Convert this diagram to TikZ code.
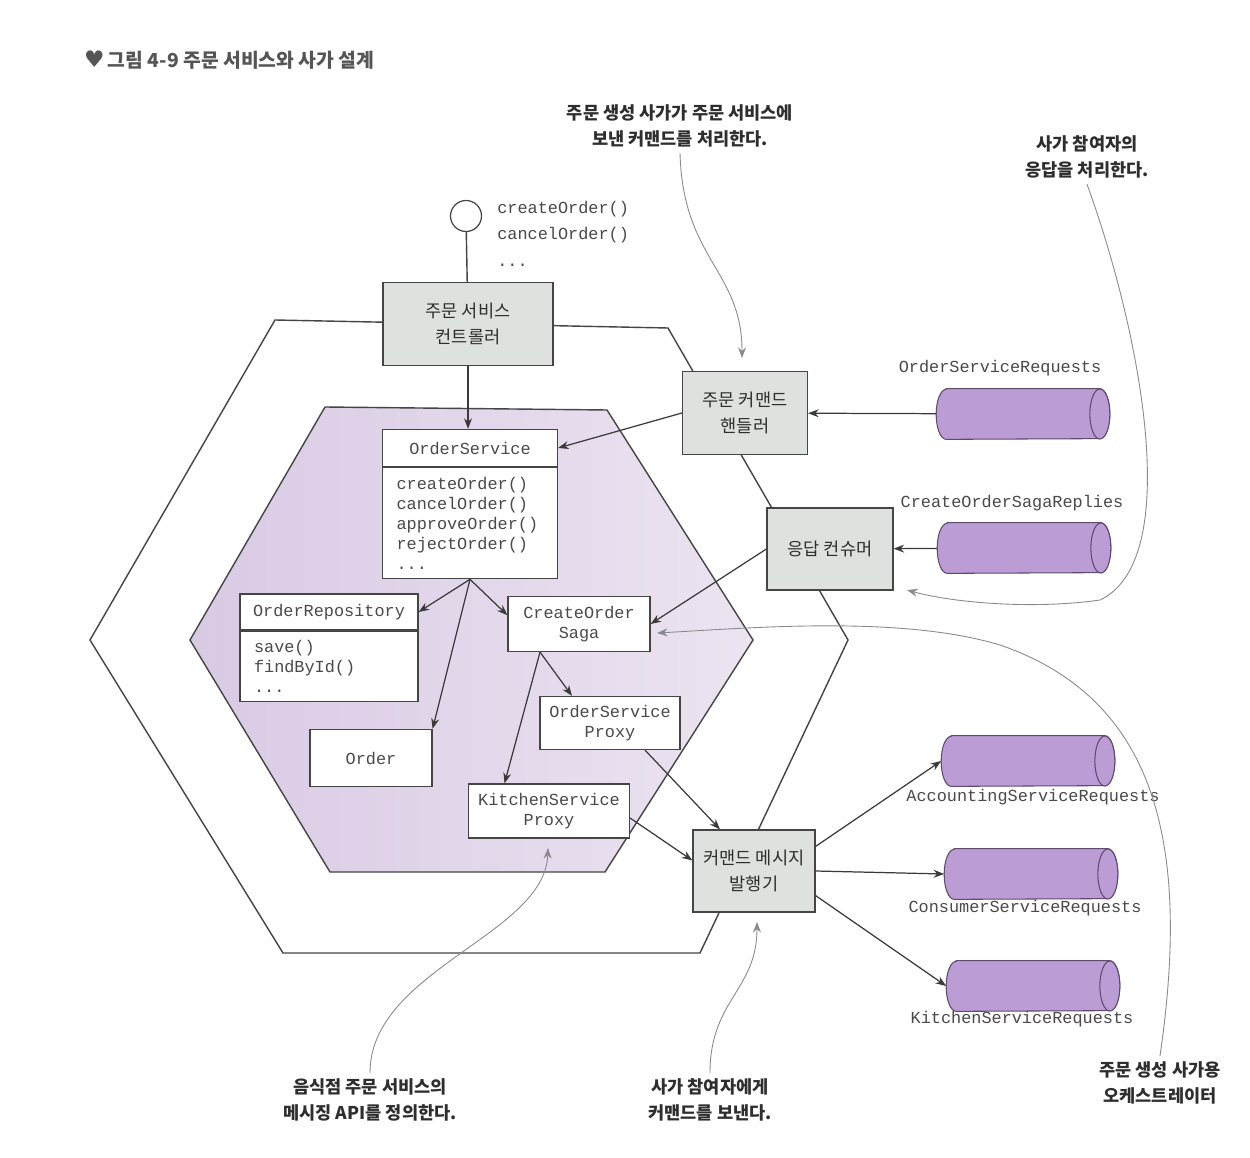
\documentclass[tikz,border=0pt]{standalone}
\usepackage{fontspec}
\setmainfont{Noto Sans CJK KR}
\newfontfamily\monofont{Liberation Mono}
\newfontfamily\symfont{DejaVu Sans}
\usepackage{tikz}
\usetikzlibrary{calc}
\usetikzlibrary{positioning}
\usetikzlibrary{shapes.geometric}
\usetikzlibrary{arrows.meta}
\definecolor{boxgray}{HTML}{DDE2DF}
\definecolor{hexline}{HTML}{454545}
\definecolor{linedark}{HTML}{3A3A3A}
\definecolor{notegray}{HTML}{8A8A8A}
\definecolor{textdark}{HTML}{2E2E2E}
\definecolor{textmono}{HTML}{4A4A4A}
\definecolor{titlegray}{HTML}{555555}
\definecolor{queuefill}{HTML}{BB9CD4}
\definecolor{queueline}{HTML}{5E4B6E}
\definecolor{innerleft}{HTML}{D9CAE4}
\definecolor{innerright}{HTML}{ECE4F1}
\tikzset{
box/.style={draw=hexline,line width=0.7pt,align=center,inner sep=0cm,anchor=center},
ctrlbox/.style={box,fill=boxgray,text=textdark,font=\fontsize{10}{14.5}\selectfont},
codebox/.style={box,fill=white,text=textmono,font=\monofont\fontsize{9.6}{11.3}\selectfont},
membox/.style={codebox,align=left,anchor=north,inner xsep=0.28cm},
queue/.style={rectangle,inner sep=0cm,minimum width=3.46cm,minimum height=1.0cm,anchor=center},
queueside/.style={draw=queueline,fill=queuefill,line width=0.6pt},
qlabel/.style={inner sep=0cm,text=textmono,font=\monofont\fontsize{9.6}{11}\selectfont},
flow/.style={draw=linedark,line width=0.7pt,-{Stealth[length=6pt,width=4.5pt]}},
note/.style={align=center,text=textdark,font=\fontsize{10}{14.5}\selectfont\bfseries},
pointer/.style={draw=notegray,line width=0.5pt,-{Stealth[length=6pt,width=4.5pt]}},
hexside/.style={draw=hexline,line width=0.8pt}
}

\begin{document}
\begin{tikzpicture}[x=0.02cm,y=-0.02cm]
    \newcommand{\capr}{0.2cm}
    \fill[white] (0,0) rectangle (1250,1158);
    \useasboundingbox (0,0) rectangle (1250,1158);
    %
    \node[anchor=west,text=titlegray,font=\fontsize{11}{13}\selectfont\bfseries] (title)
      at (78,60) {{\symfont\fontsize{13}{13}\selectfont ♥}\,그림 4-9 주문 서비스와 사가 설계};
    %
    % hexagons
    \draw[hexside] (275,320) -- (668,328) -- (848,640) -- (700,953) -- (283,953) -- (90,640) -- cycle;
    \draw[hexside,left color=innerleft,right color=innerright]
      (325,407) -- (607,410) -- (753,640) -- (605,872) -- (330,872) -- (190,640) -- cycle;
    %
    \node[circle,draw=hexline,line width=0.7pt,fill=white,minimum size=0.62cm,inner sep=0cm] (iface) at (466,216) {};
    \node[qlabel,anchor=north west,align=left,font=\monofont\fontsize{9.6}{15}\selectfont] (ifaceOps)
      at (497,201) {createOrder()\\cancelOrder()\\...};
    %
    \node[ctrlbox,minimum width=3.4cm,minimum height=1.66cm] (ctrl) at (468,324) {주문 서비스\\컨트롤러};
    \node[ctrlbox,minimum width=2.5cm,minimum height=1.66cm] (cmdHandler) at (745,413) {주문 커맨드\\핸들러};
    \node[ctrlbox,minimum width=2.52cm,minimum height=1.64cm] (replyConsumer) at (830,549) {응답 컨슈머};
    \node[ctrlbox,minimum width=2.44cm,minimum height=1.64cm] (publisher) at (754,871) {커맨드 메시지\\발행기};
    %
    \node[codebox,minimum width=3.5cm,minimum height=0.74cm] (osHead) at (470,448) {OrderService};
    \node[membox,minimum width=3.5cm,minimum height=2.22cm,text width=2.94cm] (osBody)
      at (osHead.south) {createOrder()\\cancelOrder()\\approveOrder()\\rejectOrder()\\...};
    \node[codebox,minimum width=3.56cm,minimum height=0.72cm] (repoHead) at (329,612) {OrderRepository};
    \node[membox,minimum width=3.56cm,minimum height=1.4cm,text width=3.0cm] (repoBody)
      at (repoHead.south) {save()\\findById()\\...};
    \node[codebox,minimum width=2.44cm,minimum height=1.14cm] (order) at (371,758) {Order};
    \node[codebox,minimum width=2.84cm,minimum height=1.1cm] (saga) at (579,624) {CreateOrder\\Saga};
    \node[codebox,minimum width=2.8cm,minimum height=1.06cm] (osProxy) at (610,723) {OrderService\\Proxy};
    \node[codebox,minimum width=3.22cm,minimum height=1.08cm] (ksProxy) at (549,811) {KitchenService\\Proxy};
    \coordinate (sagaIn) at ([yshift=5pt]saga.west);
    %
    % message channels
    \node[queue] (cylOSR) at (1023,414) {};
    \node[queue] (cylCOSR) at (1024,548) {};
    \node[queue] (cylASR) at (1028,761) {};
    \node[queue] (cylCSR) at (1031,874) {};
    \node[queue] (cylKSR) at (1033,986) {};
    \foreach \q in {cylOSR,cylCOSR,cylASR,cylCSR,cylKSR}{
      \draw[queueside] ([xshift=\capr]\q.north west) -- ([xshift=-\capr]\q.north east)
        arc[start angle=90,end angle=-90,x radius=\capr,y radius=0.5cm]
        -- ([xshift=\capr]\q.south west)
        arc[start angle=270,end angle=90,x radius=\capr,y radius=0.5cm] -- cycle;
      \draw[queueside] ([xshift=-\capr]\q.east) ellipse[x radius=\capr,y radius=0.5cm];
    }
    \node[qlabel] (lblOSR) at (1000,368) {OrderServiceRequests};
    \node[qlabel] (lblCOSR) at (1012,503) {CreateOrderSagaReplies};
    \node[qlabel] (lblASR) at (1033,797) {AccountingServiceRequests};
    \node[qlabel] (lblCSR) at (1025,908) {ConsumerServiceRequests};
    \node[qlabel] (lblKSR) at (1022,1019) {KitchenServiceRequests};
    %
    \draw[hexside] (iface) -- (ctrl);
    \draw[flow] (ctrl.south) -- (ctrl.south |- osHead.north);
    \draw[flow] (cylOSR) -- (cmdHandler);
    \draw[flow] (cmdHandler.west) -- (osHead.east);
    \draw[flow] (cylCOSR) -- (replyConsumer);
    \draw[flow] (replyConsumer.west) -- (saga.east);
    \foreach \v in {repoHead.east,order.north east,sagaIn}
    \draw[flow] (osBody.south) -- (\v);
    \draw[flow] ([xshift=-0.78cm]saga.south) -- ([xshift=-0.76cm]osProxy.north);
    \draw[flow] ([xshift=-0.78cm]saga.south) -- ([xshift=-0.89cm]ksProxy.north);
    \draw[flow] ([xshift=0.7cm]osProxy.south) -- ([xshift=-0.68cm]publisher.north);
    \draw[flow] ([yshift=-4pt]ksProxy.east) -- ([yshift=6pt]publisher.west);
    \draw[flow] ([yshift=14pt]publisher.east) -- (cylASR.west);
    \draw[flow] (publisher.east) -- (cylCSR.west);
    \draw[flow] ([yshift=-14pt]publisher.east) -- (cylKSR.west);
    %
    % callouts
    \node[note] (noteHandle) at (680,126) {주문 생성 사가가 주문 서비스에\\보낸 커맨드를 처리한다.};
    \node[note] (noteReply) at (1087,157) {사가 참여자의\\응답을 처리한다.};
    \node[note] (noteApi) at (370,1100) {음식점 주문 서비스의\\메시징 API를 정의한다.};
    \node[note] (noteSend) at (710,1100) {사가 참여자에게\\커맨드를 보낸다.};
    \node[note] (noteOrch) at (1160,1083) {주문 생성 사가용\\오케스트레이터};
    \coordinate (tipHandler) at (742,358);
    \coordinate (tipReply) at (907,590);
    \coordinate (tipSaga) at (657,633);
    \coordinate (tipKitchen) at (548,848);
    \coordinate (tipPublisher) at (757,922);
    \draw[pointer] (noteHandle.south) .. controls (683,260) and (742,270) .. (tipHandler);
    \draw[pointer] (noteReply.south) .. controls (1140,330) and (1185,560) .. (1100,600)
      .. controls (1030,610) and (950,602) .. (tipReply);
    \draw[pointer] (noteOrch.north) .. controls (1190,850) and (1160,700) .. (1000,645)
      .. controls (900,615) and (750,628) .. (tipSaga);
    \draw[pointer] (noteApi.north) .. controls (370,970) and (545,935) .. (tipKitchen);
    \draw[pointer] (noteSend.north) .. controls (710,1000) and (757,990) .. (tipPublisher);
\end{tikzpicture}
\end{document}
